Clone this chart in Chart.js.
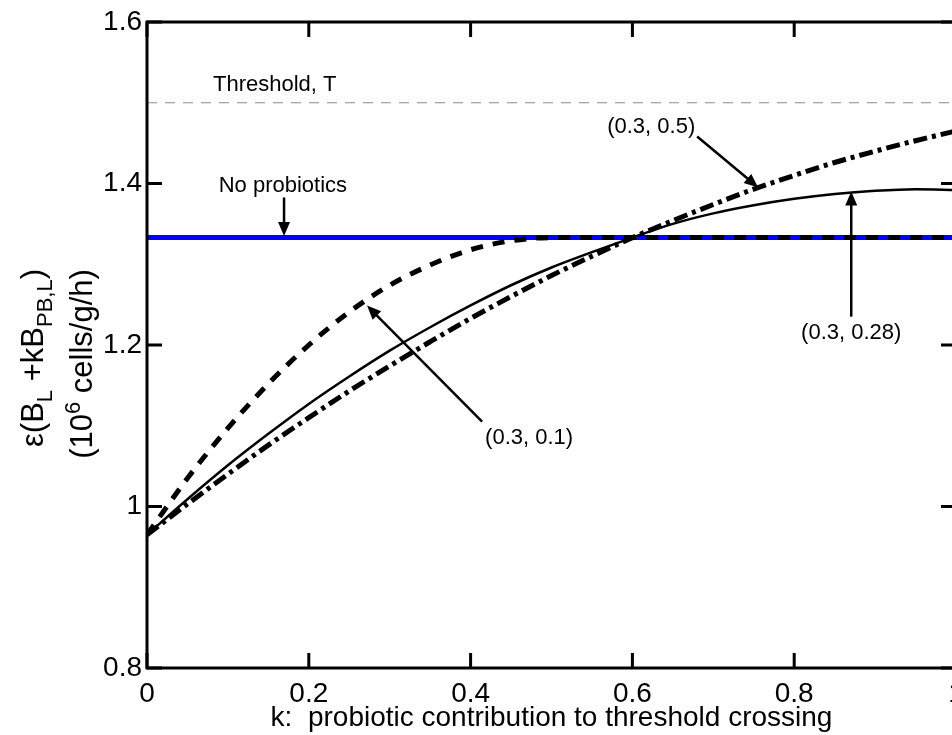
<!DOCTYPE html>
<html>
<head>
<meta charset="utf-8">
<script src="https://cdn.jsdelivr.net/npm/chart.js@4.4.1/dist/chart.umd.min.js"></script>
<style>
  html, body { margin: 0; padding: 0; background: #fff; overflow: hidden; }
  #wrap { width: 980px; height: 735px; }
</style>
</head>
<body>
<div id="wrap"><canvas id="c" width="980" height="735"></canvas></div>
<script>
// ===== data =====
const kValues = [0, 0.05, 0.1, 0.15, 0.2, 0.25, 0.3, 0.35, 0.4, 0.45, 0.5,
                 0.55, 0.6, 0.65, 0.7, 0.75, 0.8, 0.85, 0.9, 0.95, 1];
// (0.3, 0.1) dashed
const curve01 = [0.965, 1.035, 1.097, 1.152, 1.200, 1.241, 1.274, 1.299, 1.318, 1.329, 1.333,
                 1.333, 1.333, 1.333, 1.333, 1.333, 1.333, 1.333, 1.333, 1.333, 1.333];
// (0.3, 0.28) solid
const curve028 = [0.965, 1.009, 1.051, 1.090, 1.127, 1.161, 1.193, 1.222, 1.249, 1.274, 1.296,
                  1.315, 1.333, 1.350, 1.363, 1.373, 1.381, 1.387, 1.391, 1.393, 1.392];
// (0.3, 0.5) dash-dot
const curve05 = [0.965, 1.003, 1.040, 1.076, 1.110, 1.143, 1.174, 1.204, 1.233, 1.260, 1.286,
                 1.310, 1.333, 1.354, 1.374, 1.393, 1.410, 1.426, 1.440, 1.453, 1.465];
const noProbiotics = 1.333;
const threshold = 1.5;
const xTicks = [0, 0.2, 0.4, 0.6, 0.8, 1];
const yTicks = [0.8, 1, 1.2, 1.4, 1.6];

// annotations, anchored in data units
const notes = [
    { text: 'Threshold, T', at: [0.0816, 1.5216], align: 'left' },
    { text: 'No probiotics', at: [0.168, 1.3976], align: 'center', from: [0.1694, 1.3827], to: [0.1694, 1.335] },
    { text: '(0.3, 0.5)', at: [0.5688, 1.4695], align: 'left', from: [0.680, 1.4583], to: [0.7555, 1.3951] },
    { text: '(0.3, 0.28)', at: [0.8705, 1.2153], align: 'center', from: [0.8705, 1.2351], to: [0.8705, 1.3901] },
    { text: '(0.3, 0.1)', at: [0.4179, 1.0852], align: 'left', from: [0.4142, 1.105], to: [0.272, 1.2488] },
];

const FONT = '"Liberation Sans", Arial, Helvetica, sans-serif';
const pts = arr => kValues.map((k, i) => ({ x: k, y: arr[i] }));
const flat = v => kValues.map(k => ({ x: k, y: v }));

function arrow(ctx, x1, y1, x2, y2) {
    const a = Math.atan2(y2 - y1, x2 - x1), L = 14, W = 6;
    ctx.beginPath();
    ctx.moveTo(x1, y1);
    ctx.lineTo(x2 - Math.cos(a) * L * 0.8, y2 - Math.sin(a) * L * 0.8);
    ctx.stroke();
    ctx.beginPath();
    ctx.moveTo(x2, y2);
    ctx.lineTo(x2 - Math.cos(a) * L - Math.sin(a) * W, y2 - Math.sin(a) * L + Math.cos(a) * W);
    ctx.lineTo(x2 - Math.cos(a) * L + Math.sin(a) * W, y2 - Math.sin(a) * L - Math.cos(a) * W);
    ctx.closePath();
    ctx.fill();
}

// draws rotated text runs: [text, shift] where shift 1 = subscript, -1 = superscript
function drawRuns(ctx, runs, baseX, centerY) {
    const big = '31px ' + FONT, small = '22px ' + FONT;
    let total = 0;
    runs.forEach(([t, s]) => { ctx.font = s ? small : big; total += ctx.measureText(t).width; });
    ctx.save();
    ctx.translate(baseX, centerY);
    ctx.rotate(-Math.PI / 2);
    let cur = -total / 2;
    runs.forEach(([t, s]) => {
        ctx.font = s ? small : big;
        ctx.fillText(t, cur, s === 1 ? 9 : s === -1 ? -12 : 0);
        cur += ctx.measureText(t).width;
    });
    ctx.restore();
}

const frame = {
    id: 'frame',
    afterDatasetsDraw(chart) {
        const { ctx, chartArea: ca, scales: { x, y } } = chart;
        ctx.save();
        ctx.strokeStyle = '#000';
        ctx.fillStyle = '#000';
        ctx.lineWidth = 3;
        ctx.strokeRect(ca.left, ca.top, ca.right - ca.left, ca.bottom - ca.top);
        // inward ticks on all four sides
        const T = 15;
        ctx.beginPath();
        xTicks.forEach(v => {
            const px = x.getPixelForValue(v);
            ctx.moveTo(px, ca.bottom); ctx.lineTo(px, ca.bottom - T);
            ctx.moveTo(px, ca.top); ctx.lineTo(px, ca.top + T);
        });
        yTicks.forEach(v => {
            const py = y.getPixelForValue(v);
            ctx.moveTo(ca.left, py); ctx.lineTo(ca.left + T, py);
            ctx.moveTo(ca.right, py); ctx.lineTo(ca.right - T, py);
        });
        ctx.stroke();

        // annotations
        ctx.font = '22px ' + FONT;
        ctx.textBaseline = 'middle';
        ctx.lineWidth = 2.5;
        notes.forEach(n => {
            ctx.textAlign = n.align;
            ctx.fillText(n.text, x.getPixelForValue(n.at[0]), y.getPixelForValue(n.at[1]));
            if (n.from) {
                arrow(ctx, x.getPixelForValue(n.from[0]), y.getPixelForValue(n.from[1]),
                      x.getPixelForValue(n.to[0]), y.getPixelForValue(n.to[1]));
            }
        });

        // y axis title with sub/superscripts
        ctx.textAlign = 'left';
        ctx.textBaseline = 'alphabetic';
        drawRuns(ctx, [['\u03B5(B', 0], ['L', 1], [' +kB', 0], ['PB,L', 1], [')', 0]], 43, 358);
        drawRuns(ctx, [['(10', 0], ['6', -1], [' cells/g/h)', 0]], 92, 364);
        ctx.restore();
    }
};

new Chart(document.getElementById('c'), {
    type: 'line',
    data: {
        datasets: [
            { data: flat(threshold), borderColor: '#8c8c8c', borderWidth: 1, borderDash: [10, 8], order: 6 },
            { data: flat(noProbiotics), borderColor: '#0000ff', borderWidth: 5, order: 5 },
            { data: pts(curve028), borderColor: '#000', borderWidth: 2.5, order: 3 },
            { data: pts(curve05), borderColor: '#000', borderWidth: 5, borderDash: [14, 5, 4, 5], order: 2 },
            { data: pts(curve01), borderColor: '#000', borderWidth: 5, borderDash: [12, 10], order: 1 },
        ]
    },
    options: {
        responsive: false,
        animation: false,
        events: [],
        layout: { padding: { top: 22, right: 24, left: 0, bottom: 0 } },
        elements: {
            point: { radius: 0 },
            line: { tension: 0.4, cubicInterpolationMode: 'monotone', borderCapStyle: 'butt', fill: false }
        },
        plugins: { legend: { display: false }, tooltip: { enabled: false } },
        scales: {
            x: {
                type: 'linear', min: 0, max: 1,
                afterBuildTicks: s => { s.ticks = xTicks.map(v => ({ value: v })); },
                afterFit: s => { s.height = 67; },
                grid: { display: false, drawTicks: false },
                border: { display: false },
                ticks: { color: '#000', font: { family: FONT, size: 28 }, padding: 9, maxRotation: 0,
                         autoSkip: false, callback: v => String(+v.toFixed(2)) },
                title: { display: true, text: 'k:  probiotic contribution to threshold crossing',
                         color: '#000', font: { family: FONT, size: 28 }, padding: { top: 0, bottom: 0 } }
            },
            y: {
                type: 'linear', min: 0.8, max: 1.6,
                afterBuildTicks: s => { s.ticks = yTicks.map(v => ({ value: v })); },
                afterFit: s => { s.width = 147; },
                grid: { display: false, drawTicks: false },
                border: { display: false },
                ticks: { color: '#000', font: { family: FONT, size: 28 }, padding: 5,
                         autoSkip: false, callback: v => String(+v.toFixed(2)) }
            }
        }
    },
    plugins: [frame]
});
</script>
</body>
</html>
